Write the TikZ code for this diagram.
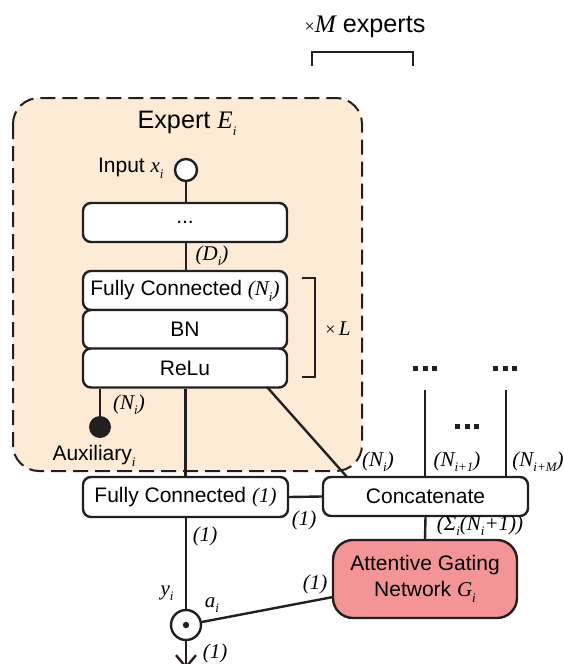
\documentclass[tikz,border=0pt]{standalone}
\usepackage{fontspec}
\setmainfont{Liberation Sans}
\newfontfamily\tms{Liberation Serif}
\usetikzlibrary{arrows.meta,calc}
\definecolor{ink}{HTML}{231F20}
\definecolor{peach}{HTML}{FDEBD6}
\definecolor{salmon}{HTML}{F39597}
% italic serif symbol and its lowered subscript
\newcommand\vi[1]{{\tms\itshape #1}}
\newcommand\sbs[1]{\raisebox{-0.55ex}{\fontsize{6.5}{6.5}\selectfont\tms\itshape #1}}
\begin{document}
\begin{tikzpicture}[x=0.5pt,y=-0.5pt,
  font=\fontsize{10.5}{12.6}\selectfont,
  conn/.style={draw=ink, line width=1.2pt},
  layer/.style={draw=ink, line width=1.2pt, fill=white, rounded corners=4pt,
    minimum width=102pt, minimum height=19.5pt, inner sep=0pt},
  lbl/.style={font=\fontsize{10.5}{12}\selectfont\tms\itshape, inner sep=0pt},
  title/.style={font=\fontsize{12.6}{15}\selectfont, inner sep=0pt}]
\useasboundingbox (0,0) rectangle (563,664);

% expert container
\draw[ink, line width=1pt, dash pattern=on 7.5pt off 3.5pt, fill=peach,
  rounded corners=13pt] (13,98) rectangle (362,471);
\node[title] (ttl) at (187,123) {Expert \vi{E}\sbs{i}};

% expert layers
\node[circle, draw=ink, line width=1.2pt, fill=white, minimum size=11pt,
  inner sep=0pt] (in) at (186,170) {};
\node[anchor=east, inner sep=0pt] (inlbl) at (164,168) {Input \vi{x}\sbs{i}};
\node[layer] (dots) at (185,222.5) {...};
\node[layer] (fc) at (185,290.5) {Fully Connected \vi{(N}\sbs{i}\vi{)}};
\node[layer] (bn) at (185,329.5) {BN};
\node[layer] (relu) at (185,368) {ReLu};
\draw[conn] (in) -- (in |- dots.north);
\draw[conn] (dots.south -| in) -- (in |- fc.north);
\node[lbl] (dl) at (212,256) {(\vi{D}\sbs{i})};

% repetition bracket
\draw[conn] (302,278) -| (315,377) -- (302,377);
\node[inner sep=0pt] (xl) at (338,329) {{\tms\fontsize{9}{9}\selectfont×}\,\vi{L}};

% auxiliary output
\node[circle, fill=ink, minimum size=11pt, inner sep=0pt] (aux) at (100,427) {};
\draw[conn] (aux) -- (aux |- relu.south);
\node[lbl] (al) at (129,405) {(\vi{N}\sbs{i})};
\node[inner sep=0pt] (auxl) at (94,456) {Auxiliary\sbs{i}};

% expert output and concatenation
\node[layer, minimum width=102.5pt, minimum height=20pt] (fc1) at (185.5,497)
  {Fully Connected \vi{(1)}};
\node[layer, minimum width=102.5pt] (cat) at (425.5,496.5) {Concatenate};
\draw[conn] (relu.south -| fc1) -- (fc1.north);
\coordinate (d1) at (267,387);
\coordinate (d2) at (347,477);
\draw[conn] (d1) -- (d2);
\draw[conn] (fc1.east) -- (cat.west);
\node[lbl] (l1a) at (304,520) {(1)};

% other experts
\coordinate (t1) at (425,390);
\coordinate (t2) at (506,390);
\draw[conn] (t1) -- (t1 |- cat.north);
\draw[conn] (t2) -- (t2 |- cat.north);
\foreach \cx/\cy in {425/368, 505/368, 467/426}{
  \foreach \dx in {-9.5,0,9.5}{
    \fill[ink] (\cx+\dx-2.5,\cy-2.5) rectangle +(5,5);
  }
}
\node[lbl] (n1) at (378,462) {(\vi{N}\sbs{i})};
\node[lbl] (n2) at (457,462) {(\vi{N}\sbs{i+1})};
\node[lbl] (n3) at (538,462) {(\vi{N}\sbs{i+M})};

% expert count bracket
\draw[conn] (312,66) |- (413,52) -- (413,66);
\node[title] (xm) at (365,27) {{\tms\fontsize{9}{9}\selectfont×}\vi{M} experts};

% gating network
\node[draw=ink, line width=1.2pt, fill=salmon, rounded corners=10pt,
  minimum width=92pt, minimum height=39pt, inner sep=0pt, align=center]
  (gate) at (425,579) {Attentive Gating\\Network \vi{G}\sbs{i}};
\draw[conn] (cat.south) -- (gate.north);
\node[lbl] (sl) at (480,526) {(\vi{Σ}\sbs{i}(\vi{N}\sbs{i}+1))};

% weighting
\node[circle, draw=ink, line width=1.2pt, fill=white, minimum size=15pt,
  inner sep=0pt] (odot) at (186,625) {};
\fill[ink] (odot.center) circle (1.6pt);
\draw[conn] (fc1.south -| odot) -- (odot.north);
\coordinate (g1) at (333,597);
\draw[conn] (odot) -- (g1);
\coordinate (out) at (186,669);
\draw[conn, -{Straight Barb[length=6pt,width=10pt]}] (odot.south) -- (out);
\node[lbl] (l1b) at (205,536) {(1)};
\node[lbl] (l1c) at (315,584) {(1)};
\node[lbl] (yl) at (167,593) {\vi{y}\sbs{i}};
\node[lbl] (al2) at (212,605) {\vi{a}\sbs{i}};
\node[lbl] (l1d) at (215,653) {(1)};
\end{tikzpicture}
\end{document}
